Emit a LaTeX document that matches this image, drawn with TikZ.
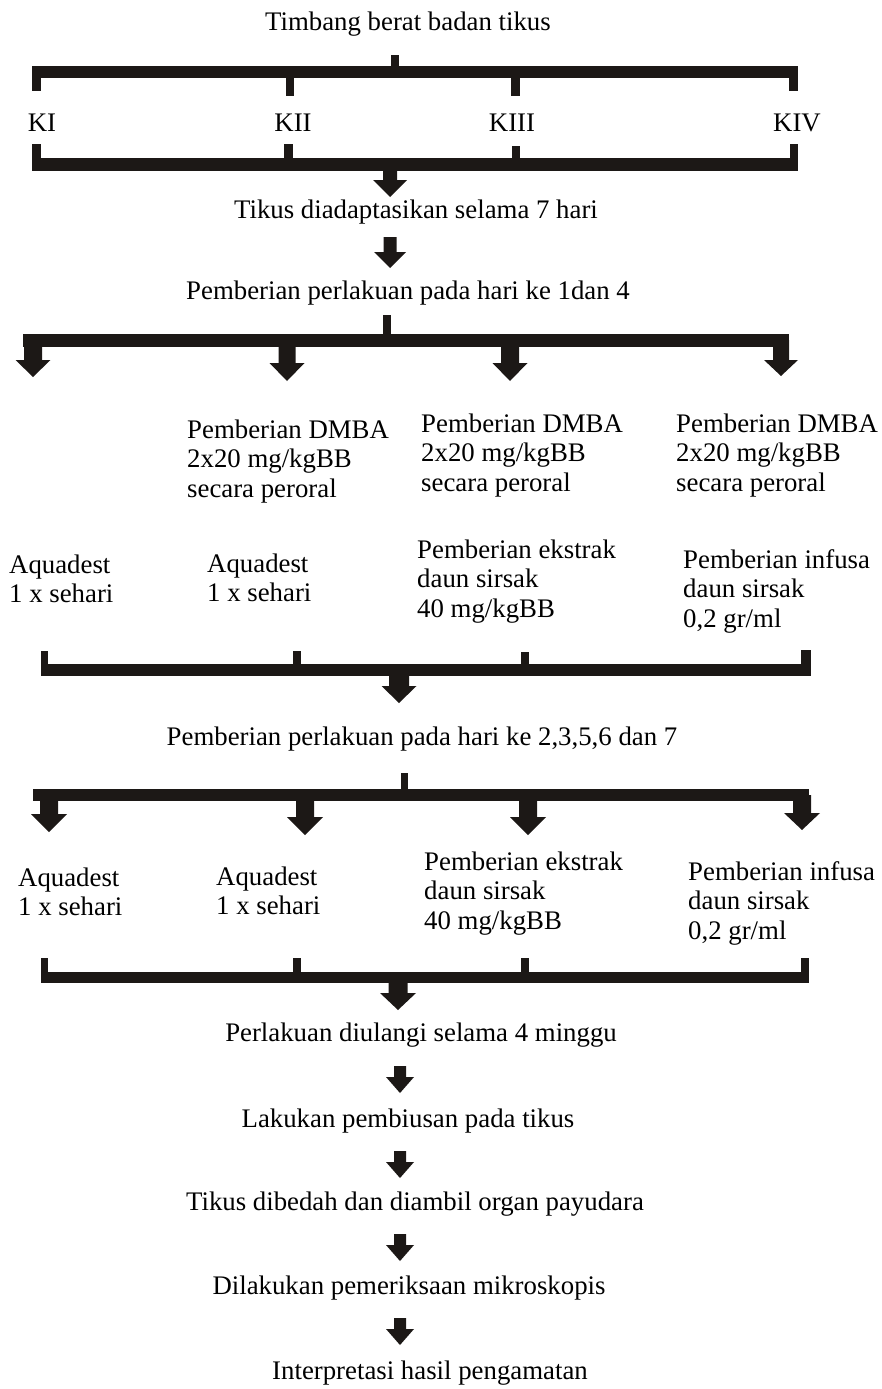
\documentclass[tikz,border=0pt]{standalone}
\usepackage{fontspec}
\setmainfont{Liberation Serif}
\definecolor{ink}{RGB}{28,24,22}
\newcommand\mfs{\fontsize{26.8pt}{29.5pt}\selectfont}
% fat arrow: x, top y, tip y, half shaft, half head, head length
\newcommand\fatarrow[6]{\fill[ink] ({#1-#4},#2) -- ({#1+#4},#2) -- ({#1+#4},{#3-#6}) -- ({#1+#5},{#3-#6}) -- (#1,#3) -- ({#1-#5},{#3-#6}) -- ({#1-#4},{#3-#6}) -- cycle;}
\newcommand\blk[4]{\fill[ink] (#1,#2) rectangle (#3,#4);}
\newcommand\lines[1]{\begin{tabular}[t]{@{}l@{}}#1\end{tabular}}
\begin{document}
\begin{tikzpicture}[x=1pt,y=-1pt,
  txt/.style={inner sep=0pt,font=\mfs,anchor=base,text=black},
  ltxt/.style={txt,anchor=base west}]
\useasboundingbox (0,0) rectangle (882,1389);

% ---- top
\node[txt] (t1) at (408,31) {Timbang berat badan tikus};
\blk{391}{55}{399}{66}
\blk{32}{66}{798}{78}
\blk{32}{78}{41}{91}
\blk{789}{78}{798}{91}
\blk{286}{78}{294}{96}
\blk{511}{78}{520}{96}

\node[txt] (k1) at (42,131) {KI};
\node[txt] (k2) at (293,131) {KII};
\node[txt] (k3) at (512,131) {KIII};
\node[txt] (k4) at (797,131) {KIV};

\blk{32}{144}{41}{158}
\blk{284}{144}{293}{158}
\blk{512}{146}{520}{158}
\blk{790}{144}{798}{158}
\blk{32}{158}{798}{171}
\fatarrow{390}{170}{197}{7}{17}{17}

\node[txt] (t2) at (416,218) {Tikus diadaptasikan selama 7 hari};
\fatarrow{390}{237}{268}{6.5}{16}{16}
\node[txt] (t3) at (408,299) {Pemberian perlakuan pada hari ke 1dan 4};

% ---- bracket 3
\blk{383}{315}{391}{334}
\blk{23}{334}{789}{347}
\fatarrow{33}{340}{377}{9}{17.5}{17}
\fatarrow{287}{346}{381}{8.5}{17.5}{18}
\fatarrow{510}{346}{381}{9}{17.5}{18}
\fatarrow{781}{340}{376}{8}{17}{16}

\node[ltxt] (d2) at (187,438) {\lines{Pemberian DMBA\\2x20 mg/kgBB\\secara peroral}};
\node[ltxt] (d3) at (421,432) {\lines{Pemberian DMBA\\2x20 mg/kgBB\\secara peroral}};
\node[ltxt] (d4) at (676,432) {\lines{Pemberian DMBA\\2x20 mg/kgBB\\secara peroral}};

\node[ltxt] (a1) at (9,573) {\lines{Aquadest\\1 x sehari}};
\node[ltxt] (a2) at (207,572) {\lines{Aquadest\\1 x sehari}};
\node[ltxt] (a3) at (417,558) {\lines{Pemberian ekstrak\\daun sirsak\\40 mg/kgBB}};
\node[ltxt] (a4) at (683,568) {\lines{Pemberian infusa\\daun sirsak\\0,2 gr/ml}};

% ---- bracket 4
\blk{41}{651}{48}{664}
\blk{293}{651}{301}{664}
\blk{521}{652}{529}{664}
\blk{801}{650}{811}{664}
\blk{41}{664}{811}{676}
\fatarrow{399}{675}{703}{10}{17.5}{17}

\node[txt] (t4) at (422,745) {Pemberian perlakuan pada hari ke 2,3,5,6 dan 7};
\blk{401}{773}{408}{789}
\blk{33}{789}{809}{801}
\fatarrow{49}{800}{832}{9}{18}{18}
\fatarrow{305}{800}{835}{9}{18}{18}
\fatarrow{528}{800}{835}{9}{18}{18}
\fatarrow{802}{795}{830}{9}{18}{17}

\node[ltxt] (b1) at (18,886) {\lines{Aquadest\\1 x sehari}};
\node[ltxt] (b2) at (216,885) {\lines{Aquadest\\1 x sehari}};
\node[ltxt] (b3) at (424,870) {\lines{Pemberian ekstrak\\daun sirsak\\40 mg/kgBB}};
\node[ltxt] (b4) at (688,880) {\lines{Pemberian infusa\\daun sirsak\\0,2 gr/ml}};

% ---- bracket 6
\blk{41}{958}{48}{972}
\blk{293}{958}{301}{972}
\blk{521}{958}{529}{972}
\blk{801}{958}{809}{972}
\blk{41}{972}{809}{983}
\fatarrow{398}{982}{1010}{9.5}{18}{17}

% ---- chain
\node[txt] (c1) at (421,1041) {Perlakuan diulangi selama 4 minggu};
\fatarrow{400}{1066}{1093}{6}{14}{16}
\node[txt] (c2) at (408,1127) {Lakukan pembiusan pada tikus};
\fatarrow{400}{1151}{1178}{6}{14}{16}
\node[txt] (c3) at (415,1210) {Tikus dibedah dan diambil organ payudara};
\fatarrow{400}{1234}{1261}{6}{14}{16}
\node[txt] (c4) at (409,1294) {Dilakukan pemeriksaan mikroskopis};
\fatarrow{400}{1318}{1345}{6}{14}{16}
\node[txt] (c5) at (430,1379) {Interpretasi hasil pengamatan};
\end{tikzpicture}
\end{document}
